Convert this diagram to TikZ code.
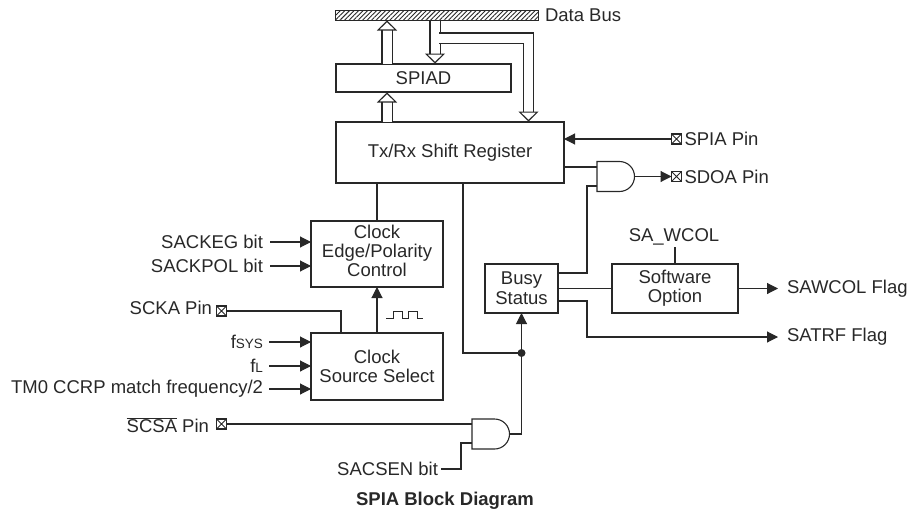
\documentclass[tikz,border=0pt]{standalone}
\usepackage{fontspec}
\setmainfont{Liberation Sans}
\usetikzlibrary{arrows.meta, positioning, calc, patterns.meta, shapes.gates.logic.US}
\definecolor{inkGray}{RGB}{40, 40, 40}

\begin{document}
\begin{tikzpicture}[
    x=1pt, y=-1pt,
    every node/.style={font=\fontsize{18.5}{19}\selectfont, text=inkGray, align=center},
    blockbox/.style={rectangle, draw=inkGray, line width=1.1pt, inner sep=0pt, outer sep=0pt},
    andgate/.style={and gate US, draw=inkGray, line width=1.1pt, logic gate inputs=nn, minimum height=30pt, minimum width=33pt, inner sep=0pt, outer sep=0pt, anchor=west},
    pinbox/.style={rectangle, draw=inkGray, line width=1.8pt, minimum size=10pt, inner sep=0pt, outer sep=0pt, path picture={\draw[inkGray, line width=0.9pt] (path picture bounding box.north west) -- (path picture bounding box.south east) (path picture bounding box.north east) -- (path picture bounding box.south west);}},
    siglabel/.style={inner sep=0pt, outer sep=0pt},
    wire/.style={draw=inkGray, line width=1.1pt},
    arrow/.style={wire, -{Triangle[length=11pt, width=11pt]}},
    busarrow/.style={draw=inkGray, line width=1.1pt, double=white, double distance=9pt, -{Triangle[open, length=10pt, width=20pt, line width=1.1pt, fill=white]}}
]
\useasboundingbox (0,0) rectangle (910,514);

% Bus and registers
\node[rectangle, draw=inkGray, line width=1pt, minimum width=203pt, minimum height=10pt, inner sep=0pt, outer sep=0pt, pattern={Lines[angle=45, distance=3.2pt, line width=0.9pt]}, pattern color=inkGray] (databus) at (436.5,15) {};
\node[siglabel, right=7pt of databus] (busLabel) {Data Bus};
\node[blockbox, minimum width=228pt, minimum height=61pt] (shiftReg) at (450,152.5) {Tx/Rx Shift Register};
\node[blockbox, minimum width=175pt, minimum height=28pt, above=30pt of shiftReg.north west, anchor=south west] (spiad) {SPIAD};

% Clock blocks
\node[blockbox, minimum width=132pt, minimum height=66pt, text depth=6pt] (clockEdge) at (377,254) {Clock\\Edge/Polarity\\Control};
\node[blockbox, minimum width=132pt, minimum height=67pt, below=46pt of clockEdge] (clockSrc) {Clock\\Source Select};

% Status blocks
\node[blockbox, minimum width=73pt, minimum height=49pt] (busyStatus) at (521.5,288.5) {Busy\\[1pt]Status};
\node[blockbox, minimum width=126pt, minimum height=49pt] (swOption) at (675,288.5) {Software\\Option};
\node[siglabel] (saWcol) at (674,237) {SA\_WCOL};

% Gates
\node[andgate] (sdoaGate) at (597,176.5) {};
\node[andgate] (scsaGate) at (472,434) {};

% Pins
\node[pinbox] (spiaPin) at (676.5,139) {};
\node[siglabel, right=3pt of spiaPin] (spiaLabel) {SPIA Pin};
\node[pinbox] (sdoaPin) at (676.5,176.5) {};
\node[siglabel, right=3pt of sdoaPin] (sdoaLabel) {SDOA Pin};
\node[pinbox] (sckaPin) at (221.5,311) {};
\node[siglabel, anchor=east] (sckaLabel) at (212,308) {SCKA Pin};
\node[pinbox] (scsaPin) at (221.5,424) {};
\node[siglabel, anchor=east] (scsaLabel) at (209,425) {$\overline{\mbox{SCSA}}$ Pin};

% Left inputs
\node[siglabel, anchor=east] (sackegLabel) at (263,242) {SACKEG bit};
\node[siglabel, anchor=east] (sackpolLabel) at (263,266) {SACKPOL bit};
\node[siglabel, anchor=east] (fsysLabel) at (263,342) {f{\fontsize{13.5}{15}\selectfont SYS}};
\node[siglabel, anchor=east] (flLabel) at (263,366) {f{\fontsize{13.5}{15}\selectfont L}};
\node[siglabel, anchor=east] (tmLabel) at (263,389) {TM0 CCRP match frequency/2};
\node[siglabel, anchor=east] (sacsenLabel) at (438,469) {SACSEN bit};

% Flags
\node[siglabel, anchor=west] (sawcolLabel) at (787,288.5) {SAWCOL Flag};
\node[siglabel, anchor=west] (satrfLabel) at (787,337) {SATRF Flag};
\node[siglabel, font=\fontsize{18.5}{20}\selectfont\bfseries] (title) at (445,501) {SPIA Block Diagram};

% Bus arrows
\coordinate (busBranch) at (439.4,38);
\draw[busarrow] (387,63.5) -- (387,20.5);
\draw[busarrow] (387,121.5) -- (387,92.5);
\draw[busarrow] (435,20.5) -- (435,63.5);
\draw[busarrow] (busBranch) -| (528.5,121.5);

% Shift register wiring
\coordinate (spiaIn) at (shiftReg.east |- spiaPin);
\draw[arrow] (spiaPin) -- (spiaIn);
\coordinate (sdoaIn) at ($(sdoaGate.west)+(0,-9.5)$);
\draw[wire] (shiftReg.east |- sdoaIn) -- (sdoaIn);
\draw[arrow] (sdoaGate.east) -- (sdoaPin);
\draw[wire] (clockEdge.north) -- (clockEdge.north |- shiftReg.south);

% Clock wiring
\draw[arrow] ([xshift=7pt]sackegLabel.east) -- (clockEdge.west |- sackegLabel);
\draw[arrow] ([xshift=7pt]sackpolLabel.east) -- (clockEdge.west |- sackpolLabel);
\draw[arrow] (clockSrc.north) -- (clockEdge.south);
\draw[wire] (sckaPin.east) -| ([xshift=-36pt]clockSrc.north);
\draw[arrow] ([xshift=6pt]fsysLabel.east) -- (clockSrc.west |- fsysLabel);
\draw[arrow] ([xshift=6pt]flLabel.east) -- (clockSrc.west |- flLabel);
\draw[arrow] ([xshift=6pt]tmLabel.east) -- (clockSrc.west |- tmLabel);
\draw[wire, line width=1pt] (386,318.5) -- (393,318.5) -- (393,311) -- (402,311) -- (402,318.5) -- (408,318.5) -- (408,311) -- (417,311) -- (417,318.5) -- (423,318.5);

% Busy status wiring
\coordinate (busyTap) at (521.5,353);
\coordinate (gateLow) at ($(sdoaGate.west)+(0,9.5)$);
\draw[arrow] (scsaGate.east) -| (busyStatus.south);
\draw[wire] (busyTap) -| (463,183);
\fill[inkGray] (busyTap) circle (4pt);
\draw[wire] (busyStatus.east |- 0,273) -| (587,186) -- (gateLow);
\draw[wire] (busyStatus.east |- swOption) -- (swOption.west);
\draw[arrow] (busyStatus.east |- 0,301) -| (587,337) -- (778,337);
\draw[wire] ([yshift=-2pt]saWcol.south -| swOption.north) -- (swOption.north);
\draw[arrow] (swOption.east) -- (778,288.5);

% Gate inputs
\coordinate (scsaIn) at ($(scsaGate.west)+(0,-10)$);
\coordinate (sacsenIn) at ($(scsaGate.west)+(0,9)$);
\draw[wire] (scsaPin.east) -- (scsaIn);
\draw[wire] ([xshift=3pt]sacsenLabel.east) -| (461,443) -- (sacsenIn);

\end{tikzpicture}
\end{document}
